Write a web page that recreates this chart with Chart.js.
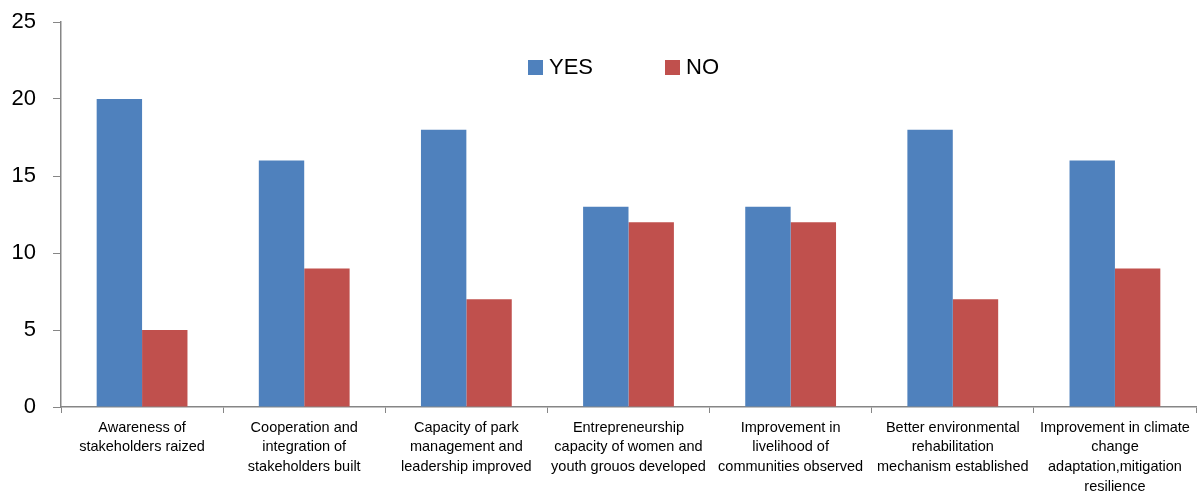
<!DOCTYPE html>
<html>
<head>
<meta charset="utf-8">
<script src="https://cdn.jsdelivr.net/npm/chart.js@4/dist/chart.umd.min.js"></script>
<style>
    html, body { margin: 0; padding: 0; background: #fff; }
    #wrap { width: 1204px; height: 493px; }
</style>
</head>
<body>
<div id="wrap"><canvas id="surveyChart"></canvas></div>
<script>
// ===== Data =====
const categories = [
    ['Awareness of', 'stakeholders raized'],
    ['Cooperation and', 'integration of', 'stakeholders built'],
    ['Capacity of park', 'management and', 'leadership improved'],
    ['Entrepreneurship', 'capacity of women and', 'youth grouos developed'],
    ['Improvement in', 'livelihood of', 'communities observed'],
    ['Better environmental', 'rehabilitation', 'mechanism established'],
    ['Improvement in climate', 'change', 'adaptation,mitigation', 'resilience']
];
const yesValues = [20, 16, 18, 13, 13, 18, 16];
const noValues = [5, 9, 7, 12, 12, 7, 9];
const seriesNames = ['YES', 'NO'];

const FONT = '"Liberation Sans", Arial, sans-serif';
const AXIS_GRAY = '#868686';

// legend drawn inside the plot area, like the original
const insideLegend = {
    id: 'insideLegend',
    afterDraw(chart) {
        const ctx = chart.ctx;
        const spots = [528, 665];
        ctx.save();
        ctx.font = '22px ' + FONT;
        ctx.textBaseline = 'middle';
        chart.data.datasets.forEach((ds, i) => {
            const x = spots[i];
            ctx.fillStyle = ds.backgroundColor;
            ctx.fillRect(x, 60, 15, 15);
            ctx.fillStyle = '#000';
            ctx.fillText(ds.label, x + 21, 68);
        });
        ctx.restore();
    }
};

new Chart(document.getElementById('surveyChart'), {
    type: 'bar',
    data: {
        labels: categories,
        datasets: [
            { label: seriesNames[0], data: yesValues, backgroundColor: '#4F81BD' },
            { label: seriesNames[1], data: noValues, backgroundColor: '#C0504D' }
        ]
    },
    plugins: [insideLegend],
    options: {
        responsive: true,
        maintainAspectRatio: false,
        animation: false,
        layout: { padding: { top: 22, right: 8, left: 0, bottom: 0 } },
        datasets: {
            bar: { categoryPercentage: 0.56, barPercentage: 1.0 }
        },
        plugins: {
            legend: { display: false },
            tooltip: { enabled: false }
        },
        scales: {
            y: {
                min: 0,
                max: 25,
                afterFit(scale) {
                    scale.width = 61;
                    scale.paddingTop = 0;
                    scale.paddingBottom = 0;
                },
                ticks: {
                    stepSize: 5,
                    color: '#000',
                    padding: 17,
                    font: { family: FONT, size: 22 }
                },
                grid: {
                    drawOnChartArea: false,
                    color: AXIS_GRAY,
                    tickLength: 8
                },
                border: { color: AXIS_GRAY, width: 1.5 }
            },
            x: {
                afterFit(scale) { scale.height = 86; },
                ticks: {
                    color: '#000',
                    maxRotation: 0,
                    autoSkip: false,
                    padding: 5,
                    font: { family: FONT, size: 14.5, lineHeight: 1.35 }
                },
                grid: {
                    offset: true,
                    drawOnChartArea: false,
                    color: AXIS_GRAY,
                    tickLength: 6
                },
                border: { color: AXIS_GRAY, width: 1.5 }
            }
        }
    }
});
</script>
</body>
</html>
